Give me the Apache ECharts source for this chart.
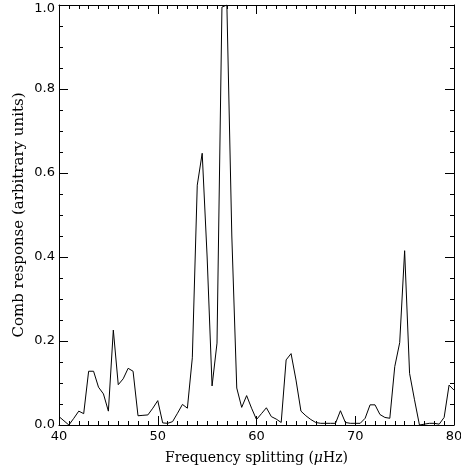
<!DOCTYPE html>
<html>
<head>
<meta charset="utf-8">
<script src="https://cdn.jsdelivr.net/npm/echarts@6/dist/echarts.min.js"></script>
<style>
html,body{margin:0;padding:0;background:#fff;}
.Comb{width:461px;height:471px;}
</style>
</head>
<body>
<div class="Comb"></div>
<script>
// frequency splitting (uHz)
var freq = [40,40.5,41,41.5,42,42.5,43,43.5,44,44.5,45,45.5,46,46.5,47,47.5,48,48.5,49,49.5,
	50,50.5,51,51.5,52,52.5,53,53.5,54,54.5,55,55.5,56,56.5,57,57.5,58,58.5,59,59.5,
	60,60.5,61,61.5,62,62.5,63,63.5,64,64.5,65,65.5,66,66.5,67,67.5,68,68.5,69,69.5,
	70,70.5,71,71.5,72,72.5,73,73.5,74,74.5,75,75.5,76,76.5,77,77.5,78,78.5,79,79.5,80];
// comb response
var resp = [0.020,0.010,0.000,0.016,0.033,0.027,0.128,0.128,0.090,0.074,0.033,0.226,0.096,0.110,0.135,0.128,0.022,0.023,0.024,0.040,
	0.058,0.005,0.004,0.008,0.028,0.049,0.040,0.160,0.571,0.647,0.400,0.093,0.195,0.995,1.000,0.450,0.088,0.042,0.070,0.040,
	0.013,0.027,0.041,0.020,0.014,0.006,0.155,0.170,0.107,0.033,0.022,0.013,0.006,0.004,0.004,0.004,0.004,0.034,0.006,0.004,
	0.004,0.004,0.016,0.048,0.048,0.025,0.018,0.016,0.139,0.196,0.415,0.123,0.060,0.000,0.002,0.004,0.004,0.002,0.018,0.095,0.083];
var xTicks = [40,80,10];
var yTicks = [0,1,0.2];

var pts = [];
for(var i=0;i<freq.length;i++){
	pts.push([freq[i],resp[i]]);
}

var lineBlack = {color:'#000',width:1};
var tickFont = 'DejaVu Sans';
var nameFont = 'DejaVu Serif';

var Comb = echarts.init(document.querySelector('.Comb'));
var option = {
	animation:false,
	backgroundColor:'#fff',
	grid:{left:59,right:7,top:5,bottom:46,containLabel:false,outerBoundsMode:'none'},
	xAxis:[{
		type:'value',
		position:'bottom',
		min:xTicks[0],max:xTicks[1],interval:xTicks[2],
		axisLine:{show:true,onZero:false,lineStyle:lineBlack},
		axisTick:{show:true,inside:true,length:9,lineStyle:lineBlack},
		minorTick:{show:true,splitNumber:10,length:4,lineStyle:lineBlack},
		splitLine:{show:false},
		axisLabel:{show:true,color:'#000',fontSize:13,fontFamily:tickFont,margin:5,showMinLabel:true,showMaxLabel:true},
		name:'{n|Frequency splitting (}{mu|μ}{n|Hz)}',
		nameLocation:'middle',
		nameGap:26,
		nameMoveOverlap:false,
		nameTextStyle:{
			rich:{
				n:{color:'#000',fontSize:14,fontFamily:nameFont},
				mu:{color:'#000',fontSize:14,fontFamily:nameFont,fontStyle:'italic'}
			}
		}
	},{
		type:'value',
		position:'top',
		min:xTicks[0],max:xTicks[1],interval:xTicks[2],
		axisLine:{show:true,onZero:false,lineStyle:lineBlack},
		axisTick:{show:true,inside:true,length:9,lineStyle:lineBlack},
		minorTick:{show:true,splitNumber:10,length:4,lineStyle:lineBlack},
		splitLine:{show:false},
		axisLabel:{show:false}
	}],
	yAxis:[{
		type:'value',
		position:'left',
		min:yTicks[0],max:yTicks[1],interval:yTicks[2],
		axisLine:{show:true,onZero:false,lineStyle:lineBlack},
		axisTick:{show:true,inside:true,length:9,lineStyle:lineBlack},
		minorTick:{show:true,splitNumber:4,length:4,lineStyle:lineBlack},
		splitLine:{show:false},
		axisLabel:{
			show:true,color:'#000',fontSize:13,fontFamily:tickFont,margin:4,showMinLabel:true,showMaxLabel:true,
			formatter:function(v){
				if(v>=yTicks[1]) return '{t|'+v.toFixed(1)+'}';
				return v.toFixed(1);
			},
			rich:{
				t:{color:'#000',fontSize:13,fontFamily:tickFont,padding:[7,0,0,0]}
			}
		},
		name:'Comb response (arbitrary units)',
		nameLocation:'middle',
		nameGap:32,
		nameMoveOverlap:false,
		nameRotate:90,
		nameTextStyle:{color:'#000',fontSize:15,fontFamily:nameFont}
	},{
		type:'value',
		position:'right',
		min:yTicks[0],max:yTicks[1],interval:yTicks[2],
		axisLine:{show:true,onZero:false,lineStyle:lineBlack},
		axisTick:{show:true,inside:true,length:9,lineStyle:lineBlack},
		minorTick:{show:true,splitNumber:4,length:4,lineStyle:lineBlack},
		splitLine:{show:false},
		axisLabel:{show:false}
	}],
	series:[{
		type:'line',
		xAxisIndex:0,
		yAxisIndex:0,
		data:pts,
		showSymbol:false,
		symbol:'none',
		clip:true,
		lineStyle:{color:'#000',width:1},
		itemStyle:{color:'#000'}
	}]
};
Comb.setOption(option);
</script>
</body>
</html>
